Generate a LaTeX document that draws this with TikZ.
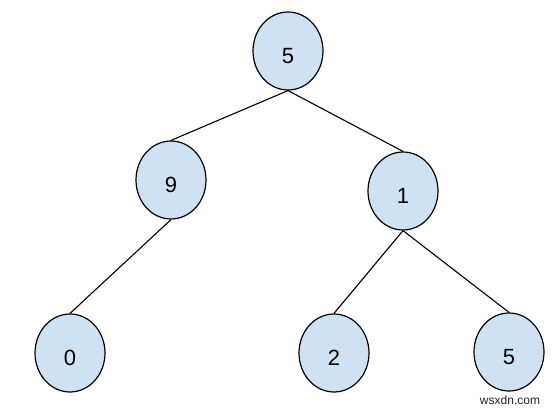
\documentclass[tikz,border=0pt]{standalone}
\usepackage{fontspec}
\setmainfont{Liberation Sans}
\usepackage{xcolor}
\usetikzlibrary{shapes.geometric, positioning}

\definecolor{nodeblue}{HTML}{CFE2F3}
\newcommand{\keyval}[1]{\raisebox{-13pt}[0pt][0pt]{#1}}

\tikzset{
    treenode/.style={ellipse, draw=black, line width=1.2pt, fill=nodeblue,
        minimum width=70pt, minimum height=78pt, inner sep=0pt,
        font=\fontsize{22}{24}\selectfont},
    edge/.style={line width=1.1pt, black}
}

\begin{document}
\begin{tikzpicture}[x=1pt, y=1pt]
\useasboundingbox (0,0) rectangle (554,412);

% Root
\node[treenode] (root) at (288,361) {\keyval{5}};

% Second level
\node[treenode] (nine) at (171,232) {\keyval{9}};
\node[treenode] (one) at (403,221) {\keyval{1}};

% Leaves
\node[treenode] (zero) at (70,59) {\keyval{0}};
\node[treenode] (two) at (334,59) {\keyval{2}};
\node[treenode] (five) at (509,60) {\keyval{5}};

% Edges
\draw[edge] (root.south) -- (nine.north);
\draw[edge] (root.south) -- (one.north);
\draw[edge] (nine.south) -- (zero.north);
\draw[edge] (one.south) -- (two.north);
\draw[edge] (one.south) -- (five.north);

% Watermark
\node[font=\fontsize{12}{14}\selectfont, text=black!85] (mark) at (510,12) {wsxdn.com};
\end{tikzpicture}
\end{document}
